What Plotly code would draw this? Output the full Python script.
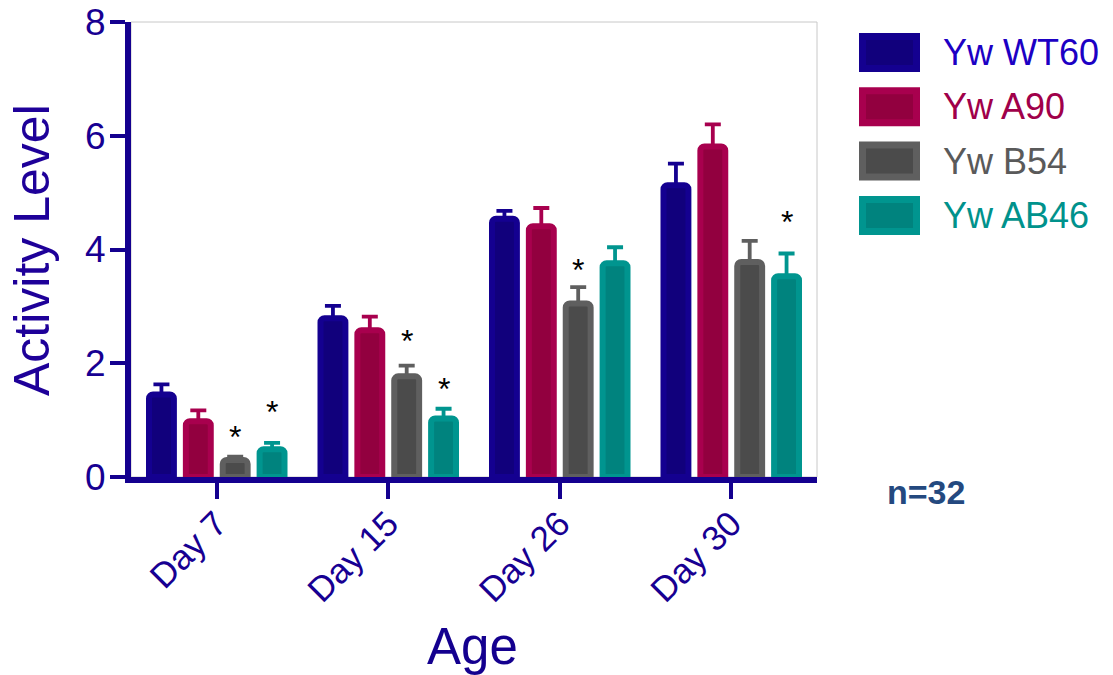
import plotly.graph_objects as go

# Activity level by age for four strains (mean + SEM)
ages = ["Day 7", "Day 15", "Day 26", "Day 30"]
strains = ["Yw WT60", "Yw A90", "Yw B54", "Yw AB46"]

wt60_mean = [1.45, 2.79, 4.54, 5.13]
wt60_err = [0.18, 0.22, 0.14, 0.38]
a90_mean = [0.98, 2.58, 4.41, 5.81]
a90_err = [0.19, 0.24, 0.32, 0.39]
b54_mean = [0.30, 1.77, 3.05, 3.78]
b54_err = [0.06, 0.19, 0.29, 0.37]
ab46_mean = [0.49, 1.03, 3.76, 3.53]
ab46_err = [0.11, 0.17, 0.28, 0.40]

# Height of significance asterisks (None = not significant)
wt60_star = [None, None, None, None]
a90_star = [None, None, None, None]
b54_star = [0.84, 2.53, 3.78, None]
ab46_star = [1.28, 1.69, None, 4.62]

sample_note = "n=32"

means = [wt60_mean, a90_mean, b54_mean, ab46_mean]
errs = [wt60_err, a90_err, b54_err, ab46_err]
stars = [wt60_star, a90_star, b54_star, ab46_star]

edge_colors = ["#140090", "#A8004E", "#5F5F5F", "#00958F"]
fill_colors = ["#11007C", "#92003F", "#4B4B4B", "#00837E"]
text_colors = ["#1C00C4", "#A0004A", "#5A5A5A", "#00928C"]

AXIS = "#14008F"
FONT = "Liberation Sans, Arial, sans-serif"

W, H = 1113, 675
L, R, T, B = 131, 817, 22, 477  # plot area in pixels

fig = go.Figure()

for name, m, e, ec, fc in zip(strains, means, errs, edge_colors, fill_colors):
    fig.add_trace(go.Bar(
        name=name, x=ages, y=m,
        marker=dict(color=fc, line=dict(color=ec, width=6), cornerradius=4),
        error_y=dict(type="data", array=e, arrayminus=[0] * len(e),
                     symmetric=False, color=ec, thickness=3.8, width=8),
        showlegend=False,
    ))

# significance markers, placed over the matching bar in each group
step = (1 - 0.14) / 4
annotations = []
for k, sy in enumerate(stars):
    for i, v in enumerate(sy):
        if v is None:
            continue
        annotations.append(dict(
            x=i, y=v, xref="x", yref="y", text="*", showarrow=False,
            xshift=(k - 1.5) * step * (R - L) / 4, yshift=-8,
            font=dict(family=FONT, size=32, color="black"),
        ))


def px(x):
    return (x - L) / (R - L)


def py(y):
    return (B - y) / (B - T)


# custom legend with large swatches
shapes = [dict(type="rect", xref="paper", yref="paper", x0=0, x1=1, y0=0, y1=1,
               line=dict(color="#C8C8C8", width=1), layer="below")]
for k, name in enumerate(strains):
    top = 33 + k * 54.3
    shapes.append(dict(type="rect", xref="paper", yref="paper",
                       x0=px(859), x1=px(920), y0=py(top + 39), y1=py(top),
                       fillcolor=edge_colors[k], line=dict(width=0)))
    shapes.append(dict(type="rect", xref="paper", yref="paper",
                       x0=px(866), x1=px(913), y0=py(top + 32), y1=py(top + 7),
                       fillcolor=fill_colors[k], line=dict(width=0)))
    annotations.append(dict(
        x=px(941), y=py(top + 19.5), xref="paper", yref="paper",
        xanchor="left", yanchor="middle", text=name, showarrow=False,
        font=dict(family=FONT, size=36, color=text_colors[k]),
    ))

annotations.append(dict(
    x=px(926), y=py(492), xref="paper", yref="paper", xanchor="center",
    yanchor="middle", text="<b>" + sample_note + "</b>", showarrow=False,
    font=dict(family=FONT, size=34, color="#24497F"),
))
annotations.append(dict(
    x=px(32), y=py(250), xref="paper", yref="paper", textangle=-90,
    xanchor="center", yanchor="middle", text="Activity Level", showarrow=False,
    font=dict(family=FONT, size=50, color="#1E0099"),
))
annotations.append(dict(
    x=px(472), y=py(646), xref="paper", yref="paper", xanchor="center",
    yanchor="middle", text="Age", showarrow=False,
    font=dict(family=FONT, size=51, color=AXIS),
))

fig.update_layout(
    width=W, height=H,
    margin=dict(l=L, r=W - R, t=T, b=H - B, pad=0, autoexpand=False),
    paper_bgcolor="white", plot_bgcolor="white",
    barmode="group", bargap=0.14, bargroupgap=0.325,
    shapes=shapes, annotations=annotations,
    font=dict(family=FONT, color=AXIS),
    showlegend=False,
)
fig.update_xaxes(
    range=[-0.5, 3.5], showgrid=False, zeroline=False, automargin=False,
    showline=True, linecolor=AXIS, linewidth=6,
    ticks="outside", ticklen=16, tickwidth=4, tickcolor=AXIS,
    tickangle=-45, tickfont=dict(family=FONT, size=35, color="#170092"),
    ticklabelstandoff=-10,
)
fig.update_yaxes(
    range=[0, 8], tickvals=[0, 2, 4, 6, 8], showgrid=False, zeroline=False,
    automargin=False,
    showline=True, linecolor=AXIS, linewidth=6,
    ticks="outside", ticklen=15, tickwidth=4, tickcolor=AXIS,
    tickfont=dict(family=FONT, size=37, color="#170092"), ticklabelstandoff=-3,
)

fig.write_html("out.html")
